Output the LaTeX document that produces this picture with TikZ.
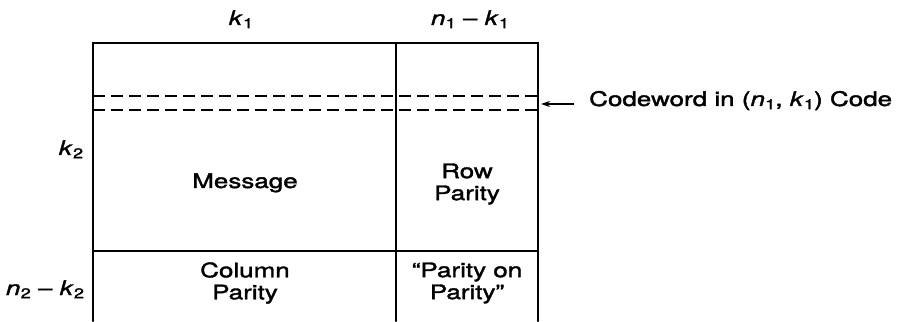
\documentclass[tikz,border=0pt]{standalone}
\usepackage{fontspec}
\setmainfont[FakeStretch=1.3,FakeBold=1.8]{TeX Gyre Heros}
\usetikzlibrary{arrows.meta}
% italic variable with a subscript digit
\newcommand{\vsub}[2]{\textit{#1}\kern0.3pt\raisebox{-0.3ex}{\fontsize{14}{14}\selectfont #2}}
\tikzset{
  frame/.style={line width=2.6pt, line cap=round},
  dashrow/.style={line width=2pt, dash pattern=on 12pt off 6pt},
  lbl/.style={font=\fontsize{20}{22}\selectfont, align=center, inner sep=0pt},
}
\begin{document}
\begin{tikzpicture}[x=1pt,y=1pt]
\useasboundingbox (0,0) rectangle (901,321);
% corners and divisions of the array
\coordinate (tl) at (93,278);
\coordinate (tm) at (396,278);
\coordinate (tr) at (538,278);
\coordinate (bl) at (93,0);
\coordinate (bm) at (396,0);
\coordinate (br) at (538,0);
\coordinate (hl) at (93,70);
\coordinate (hr) at (538,70);
\coordinate (d1l) at (93,225);
\coordinate (d1r) at (538,225);
\coordinate (d2l) at (93,211);
\coordinate (d2r) at (538,211);
\coordinate (tip) at (541,217);
\coordinate (tail) at (574,217);
% outline
\draw[frame] (bl) -- (tl) -- (tr) -- (br);
\draw[frame] (tm) -- (bm);
\draw[frame] (hl) -- (hr);
% one codeword row
\draw[dashrow] (d1l) -- (d1r);
\draw[dashrow] (d2l) -- (d2r);
% labels
\node[lbl, anchor=base] (k1) at (241,296) {\vsub{k}{1}};
\node[lbl, anchor=base] (nk1) at (470,296) {\vsub{n}{1} – \vsub{k}{1}};
\node[lbl, anchor=base] (k2) at (71,166) {\vsub{k}{2}};
\node[lbl, anchor=base] (nk2) at (45,26) {\vsub{n}{2} – \vsub{k}{2}};
\node[lbl, anchor=base] (msg) at (245,133) {Message};
\node[lbl] (row) at (467,137) {Row\\Parity};
\node[lbl] (col) at (245,38) {Column\\Parity};
\node[lbl] (pop) at (467,38) {``Parity on\\Parity''};
\node[lbl, anchor=base west] (cw) at (589,215) {Codeword in (\vsub{n}{1}, \vsub{k}{1}) Code};
\draw[line width=1.2pt, -{Stealth[length=9pt,width=6pt]}] (tail) -- (tip);
\end{tikzpicture}
\end{document}
